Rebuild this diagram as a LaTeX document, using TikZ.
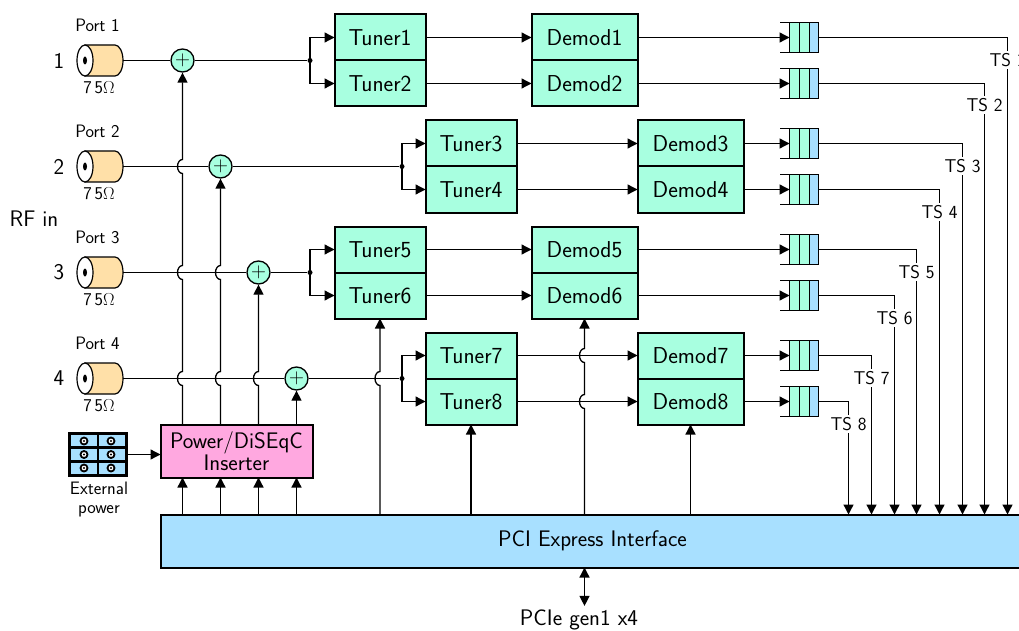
\documentclass[tikz,border=0pt]{standalone}
\usetikzlibrary{arrows.meta,positioning}
\renewcommand{\familydefault}{\sfdefault}
\definecolor{chipgreen}{HTML}{A8FFE0}
\definecolor{busblue}{HTML}{A8E0FF}
\definecolor{powerpink}{HTML}{FFA8E0}
\definecolor{coaxtan}{HTML}{FFE0A8}
\newcommand{\hop}[2]{-- ([yshift=-7pt]#1 |- #2) arc[start angle=90,end angle=270,x radius=5,y radius=7]}
\tikzset{
  tunerbox/.style={draw,line width=2pt,fill=chipgreen,outer sep=0pt,minimum width=91pt,minimum height=46pt,font=\fontsize{23}{25}\selectfont},
  demodbox/.style={tunerbox,minimum width=106pt},
  adder/.style={draw,circle,fill=chipgreen,line width=1.3pt,inner sep=0pt,minimum size=23pt,font=\fontsize{20}{20}\selectfont},
  splitdot/.style={circle,fill=black,inner sep=0pt,minimum size=5pt},
  smalltext/.style={font=\fontsize{18}{20}\selectfont},
  bigtext/.style={font=\fontsize{22.5}{24}\selectfont},
  tslabel/.style={fill=white,inner sep=2pt,font=\fontsize{18.5}{20}\selectfont},
  coax/.pic={
    \draw[fill=coaxtan,line width=1.2pt] (0,-15.5) -- (30,-15.5) arc[start angle=90,end angle=-90,x radius=8,y radius=-15.5] -- (0,15.5) -- cycle;
    \draw[fill=white,line width=1.2pt] (0,0) ellipse[x radius=8,y radius=15.5];
    \fill (0,0) ellipse[x radius=2,y radius=4];
    \coordinate (-out) at (38,0);
  },
  fifo/.pic={
    \fill[chipgreen] (-14.5,-15) rectangle (5.5,15);
    \fill[busblue] (5.5,-15) rectangle (14.5,15);
    \draw[line width=1.3pt] (-24,-15) -- (14.5,-15) -- (14.5,15) -- (-24,15);
    \draw[line width=1.3pt] (-14.5,-15) -- (-14.5,15) (-4.5,-15) -- (-4.5,15) (5.5,-15) -- (5.5,15);
    \coordinate (-in) at (-14.5,0);
    \coordinate (-out) at (14.5,0);
  }
}
\begin{document}
\begin{tikzpicture}[x=1pt,y=-1pt,line width=1.3pt,node distance=106pt,>={Triangle[length=10pt,width=10pt]}]
\useasboundingbox (0,0) rectangle (1019,631);
\node[tunerbox] (tuner1) at (380,37.5) {Tuner1};
\node[tunerbox,below=0pt of tuner1] (tuner2) {Tuner2};
\node[tunerbox] (tuner3) at (471,143.5) {Tuner3};
\node[tunerbox,below=0pt of tuner3] (tuner4) {Tuner4};
\node[tunerbox] (tuner5) at (380,249.5) {Tuner5};
\node[tunerbox,below=0pt of tuner5] (tuner6) {Tuner6};
\node[tunerbox] (tuner7) at (471,355.5) {Tuner7};
\node[tunerbox,below=0pt of tuner7] (tuner8) {Tuner8};
\node[demodbox,right=of tuner1] (demod1) {Demod1};
\node[demodbox,right=of tuner2] (demod2) {Demod2};
\node[demodbox,right=121pt of tuner3] (demod3) {Demod3};
\node[demodbox,right=121pt of tuner4] (demod4) {Demod4};
\node[demodbox,right=of tuner5] (demod5) {Demod5};
\node[demodbox,right=of tuner6] (demod6) {Demod6};
\node[demodbox,right=121pt of tuner7] (demod7) {Demod7};
\node[demodbox,right=121pt of tuner8] (demod8) {Demod8};
\node[draw,line width=2pt,fill=powerpink,outer sep=0pt,minimum width=152pt,minimum height=53pt,align=center,bigtext] (power) at (236.5,451) {Power/DiSEqC\\[-2pt]Inserter};
\node[draw,line width=2pt,fill=busblue,outer sep=0pt,minimum width=864pt,minimum height=53pt,inner sep=0pt,bigtext] (bus) at (592.5,541) {PCI Express Interface};
\node[bigtext] (pcie) at (579,620) {PCIe gen1 x4};
\node[bigtext] (rfin) at (34,219) {RF in};
\foreach \n/\y in {1/60.5,2/166.5,3/272.5,4/378.5} {
  \pic (port\n) at (85,\y) {coax};
  \node[bigtext] (num\n) at (59,\y) {\n};
  \node[smalltext] (name\n) at (97.5,\y-35) {Port \n};
  \node[smalltext] (imp\n) at (99,\y+27) {7\kern3pt5$\Omega$};
}
\node[adder] (add1) at (182.5,60.5) {$+$};
\node[adder] (add2) at (220.5,166.5) {$+$};
\node[adder] (add3) at (258.5,272.5) {$+$};
\node[adder] (add4) at (296.5,378.5) {$+$};
\node[splitdot] (split1) at (310,60.5) {};
\node[splitdot] (split2) at (402,166.5) {};
\node[splitdot] (split3) at (310,272.5) {};
\node[splitdot] (split4) at (402,378.5) {};
\foreach \n in {1,2,3,4} {
  \draw (port\n-out) -- (add\n);
  \draw (add\n) -- (split\n);
}
\draw[->] (split1.center) |- (tuner1.west);
\draw[->] (split1.center) |- (tuner2.west);
\draw[->] (split2.center) |- (tuner3.west);
\draw[->] (split2.center) |- (tuner4.west);
\draw[->] (split3.center) |- (tuner5.west);
\draw[->] (split3.center) |- (tuner6.west);
\draw[->] (split4.center) |- (tuner7.west);
\draw[->] (split4.center) |- (tuner8.west);
\foreach \n in {1,...,8} \draw[->] (tuner\n) -- (demod\n);
\draw[->] (add1 |- power.north) \hop{add1}{port4-out} \hop{add1}{port3-out} \hop{add1}{port2-out} -- (add1);
\draw[->] (add2 |- power.north) \hop{add2}{port4-out} \hop{add2}{port3-out} -- (add2);
\draw[->] (add3 |- power.north) \hop{add3}{port4-out} -- (add3);
\draw[->] (add4 |- power.north) -- (add4);
\foreach \n in {1,2,3,4} \draw[->] (add\n |- bus.north) -- (add\n |- power.south);
\draw[->] (tuner6 |- bus.north) \hop{tuner6}{port4-out} -- (tuner6.south);
\draw[->] (tuner8 |- bus.north) -- (tuner8.south);
\draw[->] (demod6 |- bus.north) \hop{demod6}{demod8} \hop{demod6}{demod7} -- (demod6.south);
\draw[->] (demod8 |- bus.north) -- (demod8.south);
\draw[<->] (demod6 |- bus.south) -- (demod6 |- pcie.north);
\coordinate (qcol) at (804,0);
\foreach \n/\x/\y in {1/1007.5/60,2/984.5/105,3/962.5/166,4/939.5/212,5/916.5/272,6/894.5/318,7/871.5/378,8/848.5/424} {
  \pic (q\n) at (qcol |- demod\n) {fifo};
  \draw[->] (demod\n) -- (q\n-in);
  \node[tslabel] (ts\n) at (\x,\y) {TS \n};
  \draw (q\n-out) -| (ts\n);
  \draw[->] (ts\n) -- (ts\n |- bus.north);
}
\node[draw,line width=2.5pt,fill=busblue,minimum width=57pt,minimum height=42pt,outer sep=0pt] (extpower) at (98,454.5) {};
\draw[line width=2.5pt] (extpower.north) -- (extpower.south) (69.5,447.5) -- ++(57,0) (69.5,461.5) -- ++(57,0);
\foreach \x in {84,111} \foreach \y in {441,454.5,468} {
  \draw[fill=white,line width=1.8pt] (\x,\y) circle[radius=3.5];
  \fill (\x,\y) circle[radius=1.2];
}
\node[smalltext] (extlabel1) at (99,488) {External};
\node[smalltext] (extlabel2) at (99,511) {power};
\draw[->] (extpower) -- (extpower -| power.west);
\end{tikzpicture}
\end{document}
